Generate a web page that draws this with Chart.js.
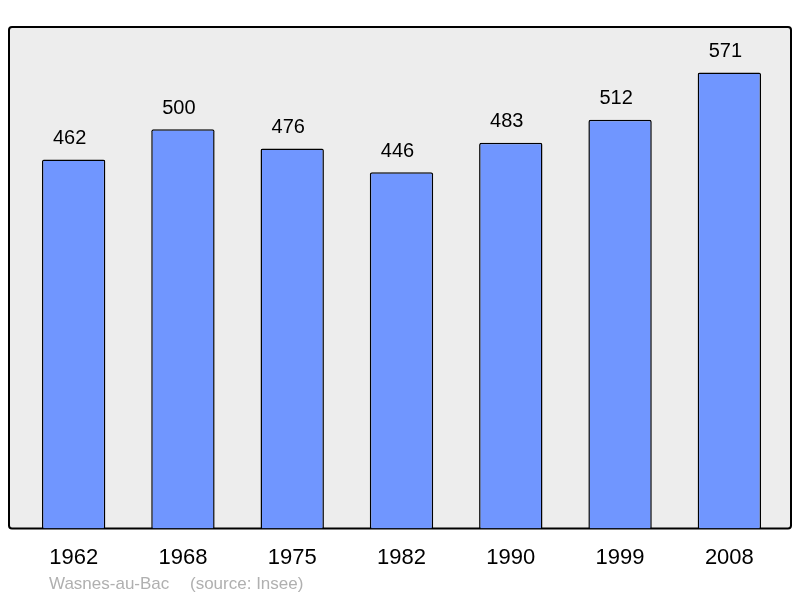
<!DOCTYPE html>
<html>
<head>
<meta charset="utf-8">
<script src="https://cdn.jsdelivr.net/npm/chart.js@4/dist/chart.umd.min.js"></script>
<style>
  html, body { margin: 0; padding: 0; background: #fff; }
  #wrap { width: 800px; height: 598px; }
</style>
</head>
<body>
<div id="wrap"><canvas id="myChart" width="800" height="598"></canvas></div>
<script>
var years = ["1962", "1968", "1975", "1982", "1990", "1999", "2008"];
var population = [462, 500, 476, 446, 483, 512, 571];
var commune = "Wasnes-au-Bac";
var source = "(source: Insee)";

// gray frame behind the bars, a bit wider than the chart area
var framePlugin = {
    id: 'frame',
    beforeDraw: function (chart) {
        var ctx = chart.ctx, a = chart.chartArea;
        var x0 = a.left - 10, x1 = a.right + 7, y0 = a.top, y1 = a.bottom;
        ctx.save();
        ctx.beginPath();
        ctx.roundRect(x0, y0, x1 - x0, y1 - y0, 3);
        ctx.fillStyle = '#ededed';
        ctx.fill();
        ctx.lineWidth = 2;
        ctx.strokeStyle = '#000';
        ctx.stroke();
        ctx.restore();
    },
    afterDatasetsDraw: function (chart) {
        var ctx = chart.ctx;
        var meta = chart.getDatasetMeta(0);
        ctx.save();
        ctx.font = '20px "Liberation Sans", Arial, sans-serif';
        ctx.fillStyle = '#000';
        ctx.textAlign = 'center';
        ctx.textBaseline = 'middle';
        // value labels sit a little left of the bar centre in the original
        meta.data.forEach(function (bar, i) {
            ctx.fillText(population[i], bar.x - 4, bar.y - 21);
        });
        ctx.font = '17px "Liberation Sans", Arial, sans-serif';
        ctx.fillStyle = '#b0b0b0';
        ctx.textAlign = 'left';
        ctx.fillText(commune, 49, 584);
        ctx.fillText(source, 190, 584);
        ctx.restore();
    }
};

var ctx = document.getElementById("myChart").getContext('2d');
var myChart = new Chart(ctx, {
    type: 'bar',
    data: {
        labels: years,
        datasets: [{
            data: population,
            backgroundColor: '#7096ff',
            borderColor: '#000',
            borderWidth: 1.5,
            borderRadius: 2,
            borderSkipped: 'bottom',
            barPercentage: 0.58,
            categoryPercentage: 1.0
        }]
    },
    options: {
        responsive: false,
        animation: false,
        layout: { padding: { left: 19, right: 16, top: 27, bottom: 19 } },
        plugins: { legend: { display: false }, tooltip: { enabled: false } },
        scales: {
            y: { display: false, min: 0, max: 628 },
            x: {
                grid: { display: false },
                border: { display: false },
                ticks: {
                    color: '#000',
                    padding: 8,
                    font: { family: '"Liberation Sans", Arial, sans-serif', size: 22 }
                }
            }
        }
    },
    plugins: [framePlugin]
});
</script>
</body>
</html>
